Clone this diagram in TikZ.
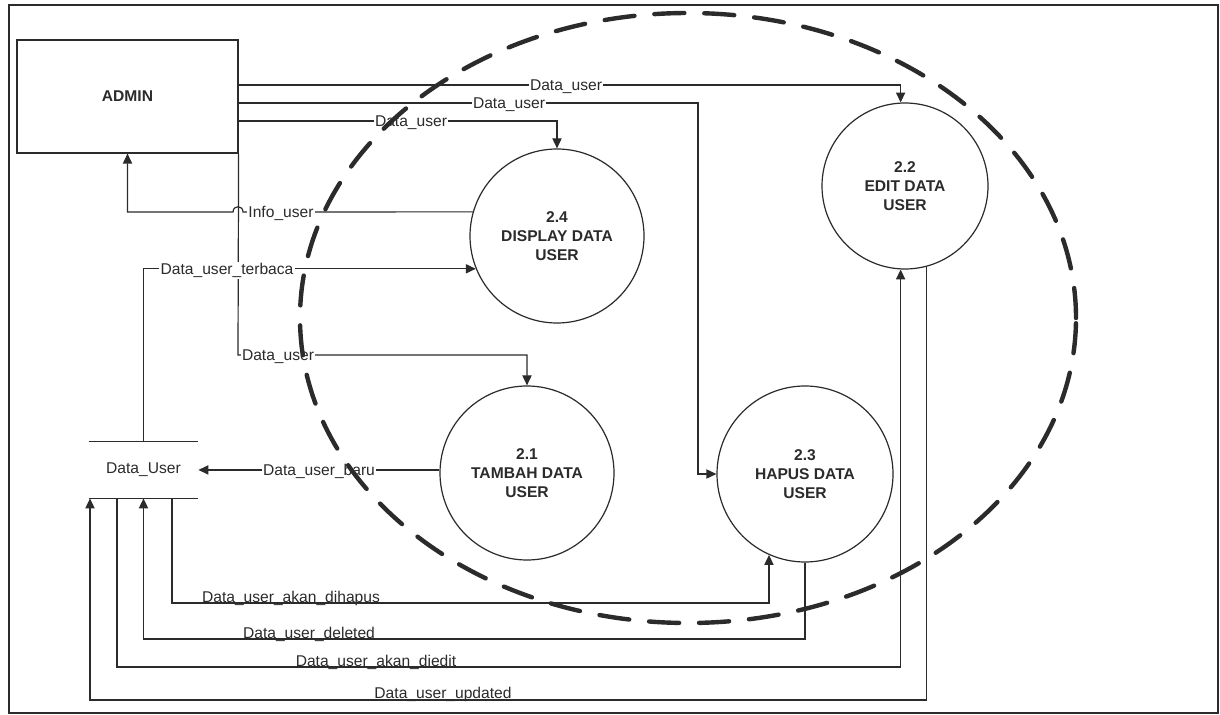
\documentclass[tikz,border=0pt]{standalone}
\usepackage{fontspec}
\setmainfont{Liberation Sans}
\usetikzlibrary{arrows.meta}
\definecolor{ink}{HTML}{2B2B2B}
\begin{document}
\begin{tikzpicture}[x=0.5pt,y=-0.5pt,
  every node/.style={text=ink},
  flow/.style={draw=ink, line width=0.6pt, -{Triangle[length=5pt,width=4.6pt]}},
  plain/.style={draw=ink, line width=0.6pt},
  proc/.style={circle, draw=ink, line width=0.6pt, inner sep=0pt, align=center,
    font=\fontsize{7.8}{9.5}\selectfont\bfseries},
  lbl/.style={fill=white, inner sep=0.6pt, anchor=mid, font=\fontsize{7.8}{9}\selectfont},
  lblb/.style={inner sep=0pt, anchor=base, font=\fontsize{7.8}{9}\selectfont},
]
\useasboundingbox (0,0) rectangle (1220,715);
\fill[white] (0,0) rectangle (1220,715);
\draw[ink, line width=1.2pt] (9,5) rectangle (1218,713);

% nodes
\node[draw=ink, line width=0.6pt, minimum width=110.5pt, minimum height=56.5pt, inner sep=0pt,
  font=\fontsize{7.8}{9}\selectfont\bfseries] (admin) at (127.5,96.5) {ADMIN};
\node[proc, minimum size=87pt] (p24) at (557,236) {2.4\\DISPLAY DATA\\USER};
\node[proc, minimum size=83pt] (p22) at (905,186) {2.2\\EDIT DATA\\USER};
\node[proc, minimum size=88pt] (p23) at (805,474) {2.3\\HAPUS DATA\\USER};
\node[proc, minimum size=87pt] (p21) at (527,473) {2.1\\TAMBAH DATA\\USER};
\node[minimum width=54.5pt, minimum height=28pt, inner sep=0pt,
  font=\fontsize{7.8}{9}\selectfont] (store) at (143.5,470) {Data\_User};
\draw[plain] (store.north west) -- (store.north east);
\draw[plain] (store.south west) -- (store.south east);

% connectors
\draw[flow] (admin.east |- 0,85) -| (p22.93);
\draw[flow] (admin.east |- 0,103) -- (698,103) |- (p23.west);
\draw[flow] (admin.east |- 0,121) -| (p24.north);
\draw[flow] (admin.south east) -- (238,355) -| (p21.north);
\draw[flow] (p24.164) -- (243,212) .. controls (243,205) and (233,205) .. (233,212) -| (admin.south);
\draw[flow] (store.north) |- (p24.202);
\draw[flow] (p21.178) -- (store.east |- p21.178);
\draw[flow] (172,0 |- store.south) -- (172,603) -| (p23.246);
\draw[flow] (p23.south) -- (p23.south |- 0,639) -| (store.south);
\draw[flow] (117,0 |- store.south) -- (117,667) -| (p22.267);
\draw[flow] (p22.285) -- (p22.285 |- 0,700) -| (90,0 |- store.south);

% labels
\node[lbl] (l1) at (566,85) {Data\_user};
\node[lbl] (l2) at (509,103) {Data\_user};
\node[lbl] (l3) at (411,121) {Data\_user};
\node[lbl] (l4) at (281,212) {Info\_user};
\node[lbl] (l5) at (227,269) {Data\_user\_terbaca};
\node[lbl] (l6) at (278,355) {Data\_user};
\node[lbl] (l7) at (319,470) {Data\_user\_baru};
\node[lblb] (l8) at (291,602) {Data\_user\_akan\_dihapus};
\node[lblb] (l9) at (309,638) {Data\_user\_deleted};
\node[lblb] (l10) at (376,666) {Data\_user\_akan\_diedit};
\node[lblb] (l11) at (443,698) {Data\_user\_updated};

% dashed boundary
\draw[ink, line width=2.2pt, line cap=round, dash pattern=on 15pt off 10pt]
  (688,318) ellipse [x radius=194pt, y radius=152.5pt];
\end{tikzpicture}
\end{document}
